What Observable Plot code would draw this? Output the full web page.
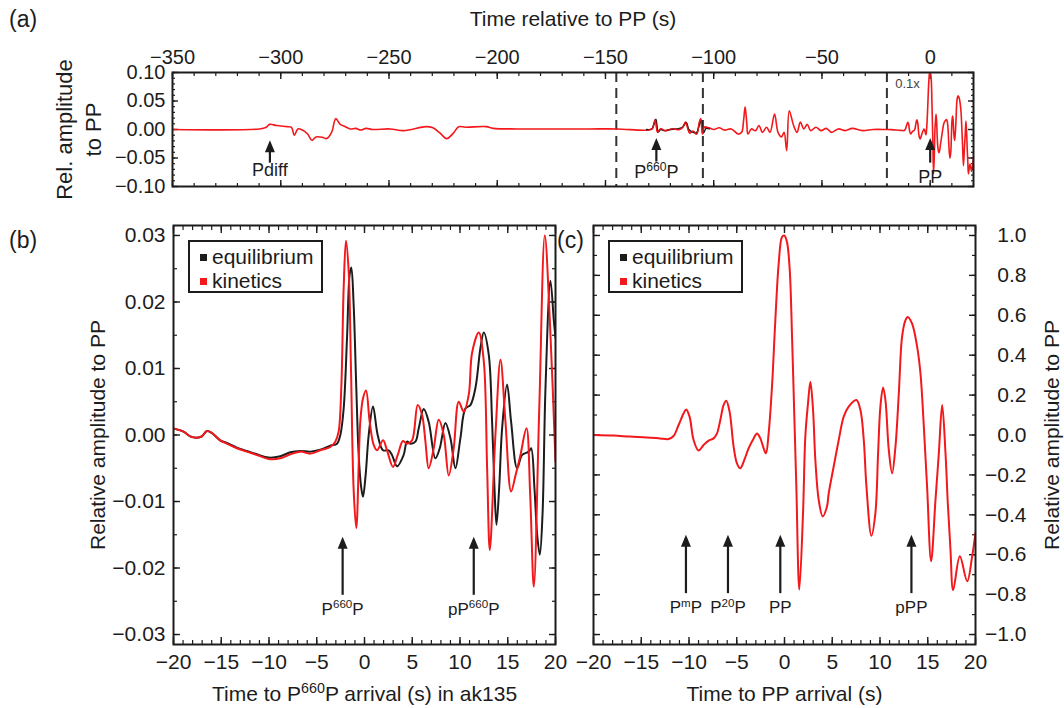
<!DOCTYPE html>
<html><head><meta charset="utf-8">
<script src="https://cdn.jsdelivr.net/npm/d3@7"></script>
<script src="https://cdn.jsdelivr.net/npm/@observablehq/plot@0.6"></script>
<style>
body{margin:0;background:#fff;}
#wrap{position:relative;width:1064px;height:708px;overflow:hidden;font-family:"Liberation Sans",Arial,Helvetica,sans-serif;color:#1c1c1c;background:#fff;}
#wrap svg{position:absolute;left:0;top:0;overflow:visible;background:transparent;}
.abs{position:absolute;white-space:nowrap;}
</style></head><body><div id="wrap"></div>
<script>
// ---------- Panel (a): time relative to PP (s), relative amplitude (kinetics, red) ----------
const aTime = [
  -350, -309.8, -306.7, -305.1, -301.9, -297.1, -295.1, -293.7, -292.1, -290,
  -287.6, -285.6, -283.7, -280.5, -278.9, -276.5, -274.6, -272.5, -270.2, -267.8,
  -265.4, -263, -260.6, -257.5, -249.5, -243.2, -232.9, -229.7, -226.5, -223.3,
  -220.2, -217.8, -214.6, -205.1, -201.9, -190.8, -173.4, -157.4, -144.6, -130.2,
  -128.3, -127.0, -125.9, -124.6, -122.3, -119.1, -115.9, -114.3, -113.0, -111.9,
  -111.1, -109.5, -107.9, -106.6, -106.0, -105.2, -104.4, -102.3, -99.9, -97.5,
  -95.1, -91.9, -88.7, -87.1, -86.2, -85.5, -84.7, -84.2, -82.6, -80.7,
  -79.1, -77.5, -75.6, -74.0, -71.9, -70.3, -68.7, -67.5, -66.3, -65.1,
  -63.1, -61.5, -60.0, -58.4, -56.8, -55.2, -52.8, -50.4, -48.0, -45.6,
  -42.4, -39.2, -36.0, -31.2, -26.4, -20.5];
const aKin = [
  0, 0.001, 0.004, 0.009, 0.007, 0.005, 0.004, -0.010, 0.001, -0.001,
  -0.008, -0.019, -0.013, -0.014, -0.016, -0.005, 0.019, 0.009, 0.005, 0.001,
  0.002, -0.001, 0.002, 0.000, 0.001, -0.002, 0.005, 0.003, -0.006, -0.016,
  -0.006, 0.005, 0.004, 0.005, 0.002, 0.001, 0.001, 0.001, 0.001, -0.001,
  0.002, 0.017, -0.005, 0.001, -0.002, 0.001, 0.000, 0.004, 0.013, 0.001,
  -0.006, -0.003, -0.008, 0.013, 0.019, -0.008, 0.004, 0.003, 0.000, 0.003,
  -0.001, 0.001, -0.008, -0.005, 0.016, 0.040, 0.010, -0.008, 0.001, -0.002,
  0.007, -0.005, 0.004, -0.005, 0.027, -0.005, -0.013, -0.005, -0.037, 0.033,
  0.007, -0.005, 0.013, 0.001, 0.009, -0.002, 0.004, -0.002, 0.002, -0.005,
  0.001, -0.002, 0.002, -0.002, 0.000, 0.000];
// equilibrium (black) inside the P660P window of panel (a)
const aEqTime = [-131, -128.5, -127.6, -126.7, -125.6, -124.5, -123, -120, -117, -114.5,
  -112.6, -111.5, -110, -108, -106.8, -105.6, -104.7, -103.5, -102];
const aEq = [0, 0.001, 0.010, 0.018, -0.004, 0.000, -0.002, 0.000, 0.001, 0.004,
  0.012, 0.000, -0.004, -0.006, 0.006, 0.016, -0.006, 0.002, 0.001];
const aDashed = [-145, -105, -20];
const ppScaleInA = 0.1;   // "0.1x" after the last dashed line
const aArrows = [
  {t: -305, head: -0.019, tail: -0.052, ly: -0.071, label: "Pdiff"},
  {t: -126.5, head: -0.015, tail: -0.050, ly: -0.075, label: "P{660}P"},
  {t: 0, head: -0.015, tail: -0.052, ly: -0.083, label: "PP"}];
const aXTicks = [-350, -300, -250, -200, -150, -100, -50, 0];
const aYTicks = [-0.10, -0.05, 0.00, 0.05, 0.10];

// ---------- Panel (b): time to P660P arrival (s) ----------
const bKinTime = [
  -20, -18.95, -18.25, -17.55, -17.03, -16.51, -15.98, -15.11, -14.41, -13.36,
  -12.31, -11.27, -10.04, -8.82, -7.77, -6.72, -5.68, -4.63, -3.58, -3.06,
  -2.71, -2.43, -2.18, -1.94, -1.66, -1.41, -1.14, -0.86, -0.44, -0.16,
  0.16, 0.54, 0.96, 1.31, 1.94, 2.36, 2.99, 3.48, 4.03, 4.45,
  4.98, 5.57, 6.03, 6.38, 6.72, 7.25, 7.77, 8.30, 8.82, 9.34,
  9.87, 10.39, 10.92, 11.27, 11.97, 12.49, 12.84, 13.12, 13.71, 14.24,
  14.76, 15.35, 15.81, 16.33, 16.96, 17.35, 17.73, 18.3, 18.88, 19.41, 20];
const bKin = [
  0.0010, 0.0005, -0.0002, -0.0004, -0.0002, 0.0006, 0.0003, -0.0008, -0.0013, -0.0020,
  -0.0025, -0.0030, -0.0036, -0.0035, -0.0029, -0.0025, -0.0028, -0.0023, -0.0018, -0.0010,
  0.0005, 0.0071, 0.0222, 0.0292, 0.0247, 0.0096, -0.0081, -0.0140, 0.0020, 0.0055,
  0.0067, 0.0020, -0.0015, -0.0023, -0.0008, -0.0023, -0.0048, -0.0030, -0.0009, -0.0013,
  -0.0008, 0.0045, 0.0030, -0.0010, -0.0050, -0.0020, 0.0023, 0.0000, -0.0061, -0.0020,
  0.0050, 0.0035, 0.0061, 0.0124, 0.0154, 0.0111, -0.0050, -0.0173, 0.0000, 0.0113,
  0.0020, -0.0085, -0.0061, -0.0030, 0.0010, -0.0090, -0.0228, 0.0040, 0.0300, 0.0171, -0.0040];
const bEqTime = [
  -20, -18.95, -18.25, -17.55, -17.03, -16.51, -15.98, -15.11, -14.41, -13.36,
  -12.31, -11.27, -10.04, -8.82, -7.77, -6.72, -5.68, -4.63, -3.58, -2.88,
  -2.53, -2.18, -1.83, -1.55, -1.38, -1.14, -0.86, -0.61, -0.37, -0.16,
  0.12, 0.44, 0.89, 1.38, 1.94, 2.53, 2.88, 3.41, 4.10, 4.45,
  4.80, 5.33, 5.68, 6.20, 6.72, 7.42, 7.88, 8.47, 9.0, 9.52,
  10.04, 10.57, 11.09, 11.62, 12.14, 12.49, 13.01, 13.36, 13.61, 13.82,
  14.10, 14.41, 14.93, 15.35, 15.98, 16.51, 17.21, 17.45, 17.80, 18.08,
  18.36, 18.64, 18.95, 19.47, 19.83, 20];
const bEq = [
  0.0010, 0.0005, -0.0002, -0.0004, -0.0002, 0.0006, 0.0003, -0.0008, -0.0012, -0.0019,
  -0.0024, -0.0029, -0.0034, -0.0032, -0.0026, -0.0024, -0.0025, -0.0022, -0.0016, -0.0013,
  0.0000, 0.0040, 0.0146, 0.0242, 0.0252, 0.0197, 0.0071, -0.0030, -0.0076, -0.0093,
  -0.0060, 0.0000, 0.0043, 0.0000, -0.0023, -0.0023, -0.0030, -0.0047, -0.0030, -0.0010,
  -0.0013, -0.0010, 0.0010, 0.0039, 0.0020, -0.0035, -0.0020, 0.0018, -0.0005, -0.0050,
  -0.0005, 0.0040, 0.0045, 0.0071, 0.0131, 0.0154, 0.0121, 0.0020, -0.0080, -0.0135,
  -0.0080, 0.0010, 0.0076, 0.0020, -0.0050, -0.0030, -0.0025, -0.0020, -0.0081, -0.0150,
  -0.0180, -0.0120, 0.0070, 0.0232, 0.0171, 0.0146];
const bArrows = [
  {t: -2.29, head: -0.0153, tail: -0.0235, ly: -0.0262, label: "P{660}P"},
  {t: 11.44, head: -0.0153, tail: -0.0235, ly: -0.0262, label: "pP{660}P"}];
const bXTicks = [-20, -15, -10, -5, 0, 5, 10, 15, 20];
const bYTicks = [-0.03, -0.02, -0.01, 0, 0.01, 0.02, 0.03];

// ---------- Panel (c): time to PP arrival (s) ----------
const cTime = [
  -20, -17.90, -16.16, -14.41, -13.01, -12.14, -11.62, -11.09, -10.57, -10.29,
  -9.94, -9.52, -9.0, -8.47, -7.95, -7.42, -7.07, -6.72, -6.38, -6.10,
  -5.75, -5.33, -4.98, -4.63, -4.21, -3.76, -3.23, -2.88, -2.53, -2.18,
  -1.94, -1.66, -1.31, -0.96, -0.61, -0.26, -0.02, 0.26, 0.55, 0.79,
  1.04, 1.24, 1.55, 1.94, 2.18, 2.46, 2.71, 2.99, 3.23, 3.58,
  4.0, 4.45, 4.63, 5.15, 5.68, 6.20, 6.72, 7.53, 7.95, 8.30,
  8.58, 9.10, 9.52, 9.80, 10.04, 10.32, 10.57, 10.92, 11.27, 11.62,
  11.97, 12.31, 12.66, 12.91, 13.36, 13.89, 14.24, 14.59, 14.93, 15.35,
  15.81, 16.16, 16.51, 16.86, 17.10, 17.38, 17.66, 18.36, 19.13, 19.65,
  20];
const cKin = [
  0, -0.003, -0.008, -0.012, -0.017, -0.020, -0.005, 0.050, 0.108, 0.128,
  0.092, -0.025, -0.078, -0.050, -0.028, -0.017, 0.008, 0.075, 0.150, 0.172,
  0.117, -0.058, -0.142, -0.167, -0.125, -0.067, -0.017, 0.008, -0.017, -0.067,
  -0.092, 0.008, 0.242, 0.575, 0.858, 0.992, 1.000, 0.967, 0.825, 0.492,
  0.075, -0.258, -0.775, -0.392, -0.008, 0.158, 0.267, 0.125, -0.125, -0.325,
  -0.408, -0.358, -0.292, -0.158, -0.025, 0.092, 0.142, 0.175, 0.125, -0.025,
  -0.258, -0.505, -0.390, -0.092, 0.142, 0.238, 0.175, -0.075, -0.192, -0.058,
  0.208, 0.492, 0.575, 0.592, 0.558, 0.442, 0.308, 0.042, -0.258, -0.633,
  -0.325, -0.092, 0.150, -0.092, -0.342, -0.575, -0.778, -0.608, -0.733, -0.608,
  -0.490];
const cArrows = [
  {t: -10.32, head: -0.5, tail: -0.775, ly: -0.865, label: "P{m}P"},
  {t: -5.92, head: -0.5, tail: -0.775, ly: -0.865, label: "P{20}P"},
  {t: -0.44, head: -0.5, tail: -0.775, ly: -0.865, label: "PP"},
  {t: 13.29, head: -0.5, tail: -0.775, ly: -0.865, label: "pPP"}];
const cYTicks = [-1.0, -0.8, -0.6, -0.4, -0.2, 0, 0.2, 0.4, 0.6, 0.8, 1.0];

// ---------- drawing ----------
const W = 1064, H = 708;
const RED = "#f2181b", INK = "#1c1c1c";
const FONT = '"Liberation Sans", Arial, Helvetica, sans-serif';
const fmt2 = d3.format(".2f"), fmt1 = d3.format(".1f"), fmtI = d3.format("d");
const none = () => "";
const zipTV = (ts, vs, k = 1) => ts.map((t, i) => ({t, v: vs[i] * k}));

const headSymbol = {draw(ctx, size) {
  const s = Math.sqrt(size / Math.PI);
  ctx.moveTo(0, 0); ctx.lineTo(s, s * 2.4); ctx.lineTo(-s, s * 2.4); ctx.closePath();
}};

function tickAxes(xMaj, xMin, yMaj, yMin, maj = 7, min = 4) {
  const m = [];
  for (const anchor of ["top", "bottom"]) {
    m.push(Plot.axisX({anchor, ticks: xMaj, tickSize: -maj, tickFormat: none, label: null, stroke: INK, strokeWidth: 1.4}));
    m.push(Plot.axisX({anchor, ticks: xMin, tickSize: -min, tickFormat: none, label: null, stroke: INK, strokeWidth: 1.2}));
  }
  for (const anchor of ["left", "right"]) {
    m.push(Plot.axisY({anchor, ticks: yMaj, tickSize: -maj, tickFormat: none, label: null, stroke: INK, strokeWidth: 1.4}));
    m.push(Plot.axisY({anchor, ticks: yMin, tickSize: -min, tickFormat: none, label: null, stroke: INK, strokeWidth: 1.2}));
  }
  return m;
}
function arrowMarks(arr, fs) {
  return [
    Plot.ruleX(arr, {x: "t", y1: "tail", y2: "head", stroke: INK, strokeWidth: 2.2, dy: 4}),
    Plot.dot(arr, {x: "t", y: "head", symbol: headSymbol, r: 5, fill: INK, stroke: "none"}),
    Plot.text(arr, {x: "t", y: "ly", text: "label", fontSize: fs, fill: INK})
  ];
}
const baseStyle = {background: "transparent", fontFamily: FONT, color: INK, overflow: "visible"};

const range = (a, b, s) => d3.range(Math.round(a / s), Math.round(b / s) + 1).map(i => +(i * s).toFixed(6));

// Panel (a)
const aAll = zipTV(aTime, aKin).concat(zipTV(cTime, cKin, ppScaleInA));
const pa = Plot.plot({
  width: W, height: H, marginLeft: 172, marginRight: W - 973, marginTop: 72, marginBottom: H - 186,
  style: baseStyle,
  x: {domain: [-350, 20], label: null},
  y: {domain: [-0.1, 0.1], label: null},
  marks: [
    ...tickAxes(aXTicks, range(-350, 20, 10), aYTicks, range(-0.1, 0.1, 0.01), 6, 3),
    Plot.axisX({anchor: "top", ticks: aXTicks, tickSize: 0, tickPadding: 9, tickFormat: fmtI, fontSize: 20, label: null, fill: INK}),
    Plot.axisY({anchor: "left", ticks: aYTicks, tickSize: 0, tickPadding: 7, tickFormat: fmt2, fontSize: 20, label: null, fill: INK}),
    Plot.ruleX(aDashed, {stroke: "#333", strokeWidth: 2, strokeDasharray: "10,6"}),
    Plot.line(aAll, {x: "t", y: "v", stroke: RED, strokeWidth: 1.6, curve: "catmull-rom", clip: true}),
    Plot.line(zipTV(aEqTime, aEq), {x: "t", y: "v", stroke: INK, strokeWidth: 1.4, curve: "catmull-rom"}),
    Plot.line(zipTV(aTime, aKin).filter(d => d.t > -132 && d.t < -101), {x: "t", y: "v", stroke: RED, strokeWidth: 1.3, curve: "catmull-rom", strokeOpacity: 0.85}),
    Plot.text(["0.1x"], {x: -10.5, y: 0.08, text: d => d, fontSize: 13, fill: "#444"}),
    ...arrowMarks(aArrows, 18),
    Plot.text(["Time relative to PP (s)"], {frameAnchor: "top", dy: -53, lineAnchor: "middle", text: d => d, fontSize: 21, fill: INK}),
    Plot.text(["Rel. amplitude\nto PP"], {frameAnchor: "left", dx: -95, rotate: -90, textAnchor: "middle", lineAnchor: "middle", text: d => d, fontSize: 22, lineHeight: 1.3, fill: INK}),
    Plot.frame({stroke: INK, strokeWidth: 2})
  ]
});

// Panel (b)
const pb = Plot.plot({
  width: W, height: H, marginLeft: 173, marginRight: W - 555, marginTop: 225, marginBottom: H - 644,
  style: baseStyle,
  x: {domain: [-20, 20], label: null},
  y: {domain: [-0.0315, 0.0315], label: null},
  marks: [
    ...tickAxes(bXTicks, range(-20, 20, 1), bYTicks, range(-0.03, 0.03, 0.005)),
    Plot.axisX({anchor: "bottom", ticks: bXTicks, tickSize: 0, tickPadding: 10, tickFormat: fmtI, fontSize: 21, label: null, fill: INK}),
    Plot.axisY({anchor: "left", ticks: bYTicks, tickSize: 0, tickPadding: 8, tickFormat: fmt2, fontSize: 21, label: null, fill: INK}),
    Plot.line(zipTV(bEqTime, bEq), {x: "t", y: "v", stroke: INK, strokeWidth: 2, curve: "catmull-rom", clip: true}),
    Plot.line(zipTV(bKinTime, bKin), {x: "t", y: "v", stroke: RED, strokeWidth: 2, curve: "catmull-rom", clip: true}),
    ...arrowMarks(bArrows, 17),
    Plot.text(["Time to P{660}P arrival (s) in ak135"], {frameAnchor: "bottom", dy: 50, lineAnchor: "middle", text: d => d, fontSize: 21, fill: INK}),
    Plot.text(["Relative amplitude to PP"], {frameAnchor: "left", dx: -75, rotate: -90, textAnchor: "middle", lineAnchor: "middle", text: d => d, fontSize: 21, fill: INK}),
    Plot.frame({stroke: INK, strokeWidth: 2})
  ]
});

// Panel (c)
const pc = Plot.plot({
  width: W, height: H, marginLeft: 593, marginRight: W - 975, marginTop: 225, marginBottom: H - 644,
  style: baseStyle,
  x: {domain: [-20, 20], label: null},
  y: {domain: [-1.05, 1.05], label: null},
  marks: [
    ...tickAxes(bXTicks, range(-20, 20, 1), cYTicks, range(-1, 1, 0.1)),
    Plot.axisX({anchor: "bottom", ticks: bXTicks, tickSize: 0, tickPadding: 10, tickFormat: fmtI, fontSize: 21, label: null, fill: INK}),
    Plot.axisY({anchor: "right", ticks: cYTicks, tickSize: 0, tickPadding: 51, textAnchor: "end", tickFormat: fmt1, fontSize: 21, label: null, fill: INK}),
    Plot.line(zipTV(cTime, cKin), {x: "t", y: "v", stroke: RED, strokeWidth: 2, curve: "catmull-rom", clip: true}),
    ...arrowMarks(cArrows, 17),
    Plot.text(["Time to PP arrival (s)"], {frameAnchor: "bottom", dy: 50, lineAnchor: "middle", text: d => d, fontSize: 21, fill: INK}),
    Plot.text(["Relative amplitude to PP"], {frameAnchor: "right", dx: 77, rotate: -90, textAnchor: "middle", lineAnchor: "middle", text: d => d, fontSize: 21, fill: INK}),
    Plot.frame({stroke: INK, strokeWidth: 2})
  ]
});

const wrap = document.getElementById("wrap");
function supify(svg) {
  svg.querySelectorAll("text").forEach(t => {
    const nodes = t.querySelector("tspan") ? [...t.querySelectorAll("tspan")] : [t];
    nodes.forEach(n => {
      const s = n.textContent;
      if (!s.includes("{")) return;
      const fs = parseFloat(getComputedStyle(n).fontSize) || 17;
      const k = (fs * 0.38).toFixed(2);
      n.textContent = "";
      let raised = false;
      s.split(/(\{[^}]*\})/).forEach(p => {
        if (!p) return;
        const ts = document.createElementNS("http://www.w3.org/2000/svg", "tspan");
        if (p.startsWith("{")) {
          ts.textContent = p.slice(1, -1);
          ts.setAttribute("font-size", (fs * 0.68).toFixed(1));
          ts.setAttribute("dy", -k);
          raised = true;
        } else {
          ts.textContent = p;
          if (raised) { ts.setAttribute("dy", k); raised = false; }
        }
        n.appendChild(ts);
      });
    });
  });
}
[pa, pb, pc].forEach(svg => { wrap.appendChild(svg); supify(svg); });

function addEl(html, css) {
  const d = document.createElement("div");
  d.className = "abs"; d.innerHTML = html;
  Object.assign(d.style, css);
  wrap.appendChild(d);
  return d;
}
// panel letters
addEl("(a)", {left: "9px", top: "5px", fontSize: "23px", lineHeight: "28px"});
addEl("(b)", {left: "9px", top: "226px", fontSize: "23px", lineHeight: "28px"});
addEl("(c)", {left: "557px", top: "226px", fontSize: "23px", lineHeight: "28px"});

// legends
const legendItems = [{name: "equilibrium", color: INK}, {name: "kinetics", color: RED}];
function legend(left) {
  addEl("", {left: left + "px", top: "240px", width: "135px", height: "53px", border: "2px solid " + INK,
    boxSizing: "border-box", background: "#fff"});
  legendItems.forEach((it, i) => {
    const cy = 257 + i * 24;
    addEl("", {left: (left + 12) + "px", top: (cy - 3.5) + "px", width: "7px", height: "7px", background: it.color});
    addEl(it.name, {left: (left + 24) + "px", top: (cy - 12) + "px", fontSize: "21px", lineHeight: "24px"});
  });
}
legend(188);
legend(608);
</script></body></html>
